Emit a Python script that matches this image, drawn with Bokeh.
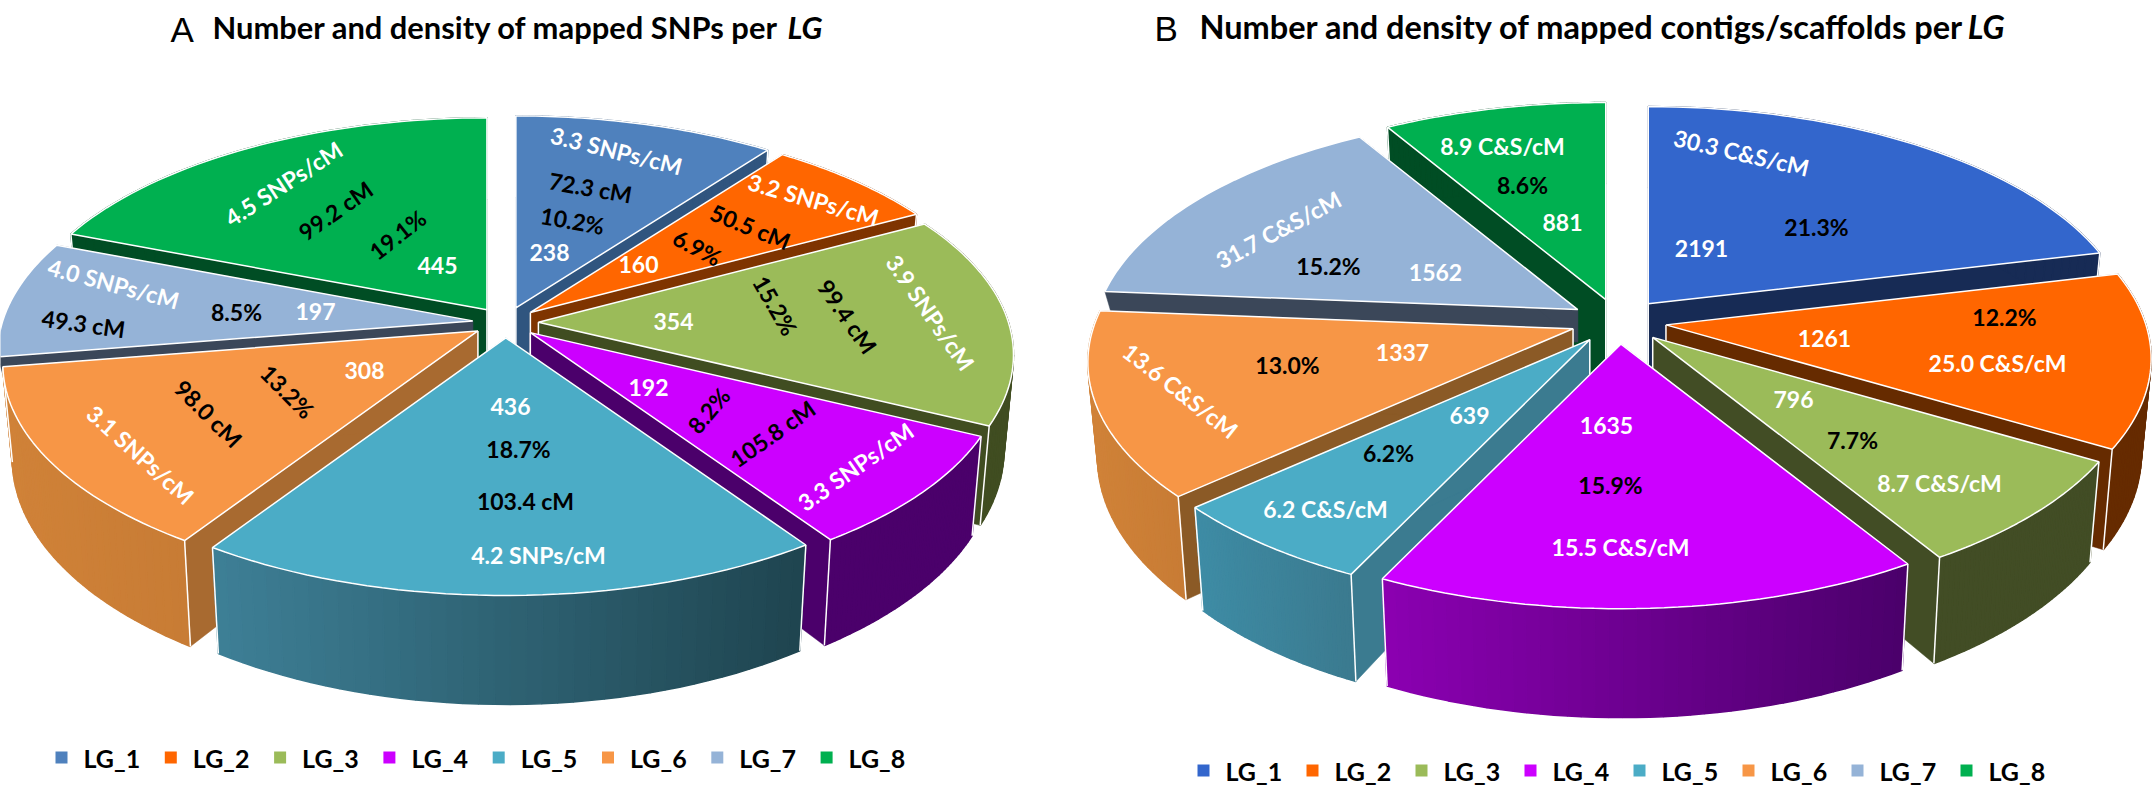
from math import sin, cos, pi

from bokeh.core.properties import value
from bokeh.embed import file_html
from bokeh.models import ColumnDataSource, Range1d
from bokeh.plotting import figure
from bokeh.resources import INLINE

lg_names = ["LG_1", "LG_2", "LG_3", "LG_4", "LG_5", "LG_6", "LG_7", "LG_8"]

# panel A, mapped SNPs
snp_count = [238, 160, 354, 192, 436, 308, 197, 445]
snp_percent = [10.2, 6.9, 15.2, 8.2, 18.7, 13.2, 8.5, 19.1]
snp_length = [72.3, 50.5, 99.4, 105.8, 103.4, 98.0, 49.3, 99.2]
snp_density = [3.3, 3.2, 3.9, 3.3, 4.2, 3.1, 4.0, 4.5]

# panel B, mapped contigs/scaffolds
contig_count = [2191, 1261, 796, 1635, 639, 1337, 1562, 881]
contig_percent = [21.3, 12.2, 7.7, 15.9, 6.2, 13.0, 15.2, 8.6]
contig_density = [30.3, 25.0, 8.7, 15.5, 6.2, 13.6, 31.7, 8.9]

top_a = ["#4F81BD", "#FF6600", "#9BBB59", "#CC00FF", "#4BACC6", "#F79646", "#95B3D7", "#00B050"]
top_b = ["#3366CC", "#FF6600", "#9BBB59", "#CC00FF", "#4BACC6", "#F79646", "#95B3D7", "#00B050"]

# side colours: left end of the outer wall, right end of it, cut faces
# a wall that the reference does not show at all is None
side_a = [("#30557F", "#30557F", "#30557F"), ("#7F3400", "#7F3400", "#7F3400"),
          ("#404D21", "#404D21", "#404D21"), ("#4B006B", "#4B006B", "#4B006B"),
          ("#3E8097", "#1F4550", "#2F6072"), ("#D08238", "#C87C35", "#A86A30"),
          (None, None, "#3B4759"), ("#004D24", "#004D24", "#004D24")]
side_b = [("#172B55", "#172B55", "#172B55"), ("#662B00", "#662B00", "#662B00"),
          ("#424D25", "#424D25", "#424D25"), ("#8C00B2", "#4B006B", "#6A008E"),
          ("#3E8CA5", "#3B7A8F", "#3B7B90"), ("#D08238", "#C87C35", "#8B5A26"),
          (None, None, "#3B4759"), ("#004D24", "#004D24", "#004D24")]

# label layout: x, y, clockwise rotation in degrees
pos_a_count = [(549, 252, 0), (638, 264, 0), (673, 321, 0), (648, 387, 0),
               (510, 406, 0), (364, 370, 0), (315, 311, 0), (437, 265, 0)]
pos_a_percent = [(572, 220, 10), (697, 247, 28), (775, 305, 60), (708, 410, -50),
                 (518, 448, 0), (287, 391, 45), (236, 311, 0), (397, 234, -38)]
pos_a_length = [(590, 187, 10), (750, 226, 22), (847, 316, 55), (772, 433, -35),
                (525, 500, 0), (208, 413, 45), (83, 323, 8), (335, 210, -35)]
pos_a_density = [(616, 150, 14), (813, 199, 16), (930, 312, 55), (855, 466, -35),
                 (538, 554, 0), (140, 454, 42), (113, 283, 15), (283, 183, -33)]

pos_b_count = [(1701, 248, 0), (1824, 338, 0), (1793, 399, 0), (1606, 425, 0),
               (1469, 415, 0), (1402, 352, 0), (1435, 272, 0), (1562, 222, 0)]
pos_b_percent = [(1816, 226, 0), (2004, 316, 0), (1852, 439, 0), (1610, 484, 0),
                 (1388, 452, 0), (1287, 364, 0), (1328, 265, 0), (1522, 184, 0)]
pos_b_density = [(1741, 152, 13), (1997, 362, 0), (1939, 482, 0), (1620, 546, 0),
                 (1325, 508, 0), (1180, 390, 38), (1278, 229, -28), (1502, 145, 0)]

PERSPECTIVE = 0.146
DEPTH = 93
BOTTOM_SHRINK = 0.98
STEPS = 40
FONT = "Lato"


def blend(c1, c2, k):
    a = [int(c1[i:i+2], 16) for i in (1, 3, 5)]
    b = [int(c2[i:i+2], 16) for i in (1, 3, 5)]
    return "#%02x%02x%02x" % tuple(round(a[i] + (b[i]-a[i])*k) for i in range(3))


def rim_point(tip, rx, ry, t):
    along = sin(t)
    away = cos(t)
    f = 1./(1. + PERSPECTIVE*away)
    return tip[0] + rx*along*f, tip[1] - ry*away*f, f


def drop(tip, pt, depth):
    return tip[0] + (pt[0]-tip[0])*BOTTOM_SHRINK, pt[1] + depth*pt[2]


def draw_pie(p, counts, tops, sides, cx, cy, rx, ry, explode):
    total = float(sum(counts))
    start = 0.
    slices = []
    for i, c in enumerate(counts):
        end = start + c/total
        slices.append((i, start*2*pi, end*2*pi))
        start = end
    # far slices first, the near ones paint over them
    slices.sort(key=lambda s: -cos((s[1]+s[2])/2.))

    for i, t0, t1 in slices:
        mid = (t0+t1)/2.
        tip = (cx + rx*explode*sin(mid), cy - ry*explode*cos(mid))
        left, right, cut = sides[i]
        # without a wall only a thin band of the cut face is to be seen
        depth = DEPTH if left is not None else DEPTH*0.35
        angles = [t0 + (t1-t0)*k/STEPS for k in range(STEPS+1)]
        rim = [rim_point(tip, rx, ry, t) for t in angles]
        low = [drop(tip, pt, depth) for pt in rim]
        tip_low = (tip[0], tip[1] + depth)

        # the two cut faces
        for pt, lo in ((rim[0], low[0]), (rim[-1], low[-1])):
            p.patch([tip[0], pt[0], lo[0], tip_low[0]], [tip[1], pt[1], lo[1], tip_low[1]],
                    fill_color=cut, line_color=cut, line_width=0.5)

        # outer wall in thin strips so that it can carry a gradient
        if left is not None:
            xs, ys, cols = [], [], []
            span = float(max(pt[0] for pt in rim) - min(pt[0] for pt in rim)) or 1.
            x_min = min(pt[0] for pt in rim)
            for k in range(STEPS):
                xs.append([rim[k][0], rim[k+1][0], low[k+1][0], low[k][0]])
                ys.append([rim[k][1], rim[k+1][1], low[k+1][1], low[k][1]])
                cols.append(blend(left, right, (rim[k][0]-x_min)/span))
            p.patches(xs, ys, fill_color=cols, line_color=cols, line_width=1.5)

            # white edges where the faces meet
            p.multi_line([[rim[0][0], low[0][0]], [rim[-1][0], low[-1][0]], [tip[0], tip_low[0]]],
                         [[rim[0][1], low[0][1]], [rim[-1][1], low[-1][1]], [tip[1], tip_low[1]]],
                         line_color="white", line_width=1.5)

        p.patch([tip[0]] + [pt[0] for pt in rim], [tip[1]] + [pt[1] for pt in rim],
                fill_color=tops[i], line_color="white", line_width=1.5)


def draw_labels(p, names, positions, color):
    source = ColumnDataSource(data=dict(x=[q[0] for q in positions],
                                        y=[q[1] for q in positions],
                                        label=names,
                                        angle=[-q[2]*pi/180. for q in positions]))
    p.text(x="x", y="y", text="label", angle="angle", source=source,
           text_color=color, text_font=value(FONT), text_font_style="bold",
           text_font_size="23px", text_align="center", text_baseline="middle")


def draw_title(p, letter, letter_x, title, title_x, end_x, y, size):
    p.text([letter_x], [y + 2], text=[letter], text_font=value("Liberation Sans"),
           text_font_size="35px", text_color="black", text_align="left",
           text_baseline="alphabetic")
    p.text([title_x], [y], text=[title], text_font=value(FONT), text_font_style="bold",
           text_font_size=size, text_color="black", text_align="left",
           text_baseline="alphabetic")
    p.text([end_x], [y], text=["LG"], text_font=value(FONT), text_font_style="bold italic",
           text_font_size=size, text_color="black", text_align="right",
           text_baseline="alphabetic")


def draw_legend(p, tops, x0, step, y):
    xs = [x0 + step*i for i in range(len(lg_names))]
    p.rect(xs, [y]*len(xs), width=12, height=12, fill_color=tops, line_color=None)
    p.text([x + 22 for x in xs], [y]*len(xs), text=lg_names, text_font=value(FONT),
           text_font_style="bold", text_font_size="25px", text_color="black",
           text_align="left", text_baseline="middle")


p = figure(width=2154, height=785, x_range=Range1d(0, 2154), y_range=Range1d(785, 0),
           output_backend="svg", toolbar_location=None, min_border=0,
           margin=0, outline_line_color=None)
p.axis.visible = False
p.grid.visible = False

draw_pie(p, snp_count, top_a, side_a, 505, 322, 470, 220, 0.07)
draw_pie(p, contig_count, top_b, side_b, 1618, 321, 480, 226, 0.10)

draw_labels(p, [str(v) for v in snp_count], pos_a_count, "white")
draw_labels(p, ["%.1f%%" % v for v in snp_percent], pos_a_percent, "black")
draw_labels(p, ["%.1f cM" % v for v in snp_length], pos_a_length, "black")
draw_labels(p, ["%.1f SNPs/cM" % v for v in snp_density], pos_a_density, "white")

draw_labels(p, [str(v) for v in contig_count], pos_b_count, "white")
draw_labels(p, ["%.1f%%" % v for v in contig_percent], pos_b_percent, "black")
draw_labels(p, ["%.1f C&S/cM" % v for v in contig_density], pos_b_density, "white")

draw_title(p, "A", 170, "Number and density of mapped SNPs per", 212, 822, 27, "30.9px")
draw_title(p, "B", 1154, "Number and density of mapped contigs/scaffolds per", 1199, 2004, 26, "32.5px")

draw_legend(p, top_a, 61, 109.3, 757)
draw_legend(p, top_b, 1203, 109, 770)

open("out.html", "w").write(file_html(p, INLINE))
